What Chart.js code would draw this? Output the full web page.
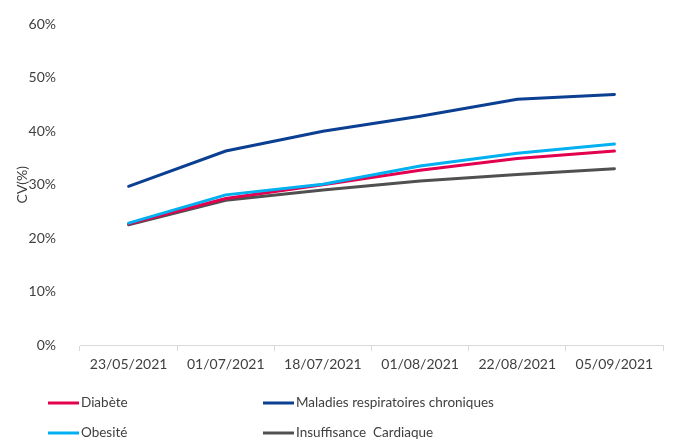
<!DOCTYPE html>
<html>
<head>
<meta charset="utf-8">
<script src="https://cdn.jsdelivr.net/npm/chart.js@4"></script>
<style>
  html, body { margin: 0; padding: 0; background: #fff; }
  #wrap { width: 673px; height: 441px; }
</style>
</head>
<body>
<div id="wrap"><canvas id="myChart" width="673" height="441"></canvas></div>
<script>
'use strict';

// données (CV en %)
var dates = ['23/05/2021', '01/07/2021', '18/07/2021', '01/08/2021', '22/08/2021', '05/09/2021'];
var diabete = [22.7, 27.4, 30.0, 32.7, 34.9, 36.3];
var maladiesResp = [29.7, 36.3, 40.0, 42.8, 46.0, 46.9];
var obesite = [22.8, 28.1, 30.1, 33.5, 35.9, 37.6];
var insuffCard = [22.5, 27.1, 29.0, 30.7, 31.9, 33.0];
var yTicks = [0, 10, 20, 30, 40, 50, 60];

var FONT = 'Lato, "Open Sans", sans-serif';
var textColor = '#404040';

// légende sur deux colonnes, dessinée sous le graphique
var legendGrid = {
  id: 'legendGrid',
  afterDraw: function (chart) {
    var ctx = chart.ctx;
    var cols = [48, 263];
    var rows = [403, 433];
    ctx.save();
    ctx.font = '13.5px ' + FONT;
    ctx.textBaseline = 'middle';
    ctx.fillStyle = textColor;
    chart.data.datasets.forEach(function (ds, i) {
      var x = cols[i % 2];
      var y = rows[Math.floor(i / 2)];
      ctx.strokeStyle = ds.borderColor;
      ctx.lineWidth = 3;
      ctx.beginPath();
      ctx.moveTo(x, y);
      ctx.lineTo(x + 31, y);
      ctx.stroke();
      ctx.fillText(ds.label, x + 33, y);
    });
    ctx.restore();
  }
};

var ctx = document.getElementById('myChart').getContext('2d');
var chart = new Chart(ctx, {
  type: 'line',
  data: {
    labels: dates,
    datasets: [{
      label: 'Diabète',
      borderColor: '#E2004F',
      data: diabete,
      order: 3
    },
    {
      label: 'Maladies respiratoires chroniques',
      borderColor: '#0B3F91',
      data: maladiesResp,
      order: 1
    },
    {
      label: 'Obesité',
      borderColor: '#00B0F0',
      data: obesite,
      order: 2
    },
    {
      label: 'Insuffisance  Cardiaque',
      borderColor: '#505050',
      data: insuffCard,
      order: 4
    }]
  },
  options: {
    responsive: false,
    animation: false,
    layout: { padding: { left: 10, right: 10, top: 20, bottom: 60 } },
    elements: {
      line: { borderWidth: 3, tension: 0, borderCapStyle: 'round' },
      point: { radius: 0 }
    },
    plugins: {
      legend: { display: false },
      tooltip: { enabled: false }
    },
    scales: {
      x: {
        offset: true,
        grid: {
          offset: true,
          drawOnChartArea: false,
          drawTicks: true,
          tickLength: 6,
          color: '#d9d9d9'
        },
        border: { display: true, color: '#d9d9d9' },
        ticks: {
          color: textColor,
          font: { family: FONT, size: 14 },
          padding: 5,
          maxRotation: 0
        },
        afterFit: function (scale) { scale.height = 36; }
      },
      y: {
        min: 0,
        max: 60,
        grid: { display: false },
        border: { display: false },
        afterBuildTicks: function (scale) {
          scale.ticks = yTicks.map(function (v) { return { value: v }; });
        },
        ticks: {
          color: textColor,
          font: { family: FONT, size: 14 },
          padding: 16,
          callback: function (v) { return v + '%'; }
        },
        title: {
          display: true,
          text: 'CV(%)',
          color: textColor,
          font: { family: FONT, size: 14 },
          padding: { top: 4, bottom: 0 }
        },
        afterFit: function (scale) { scale.width = 70; }
      }
    }
  },
  plugins: [legendGrid]
});
</script>
</body>
</html>
